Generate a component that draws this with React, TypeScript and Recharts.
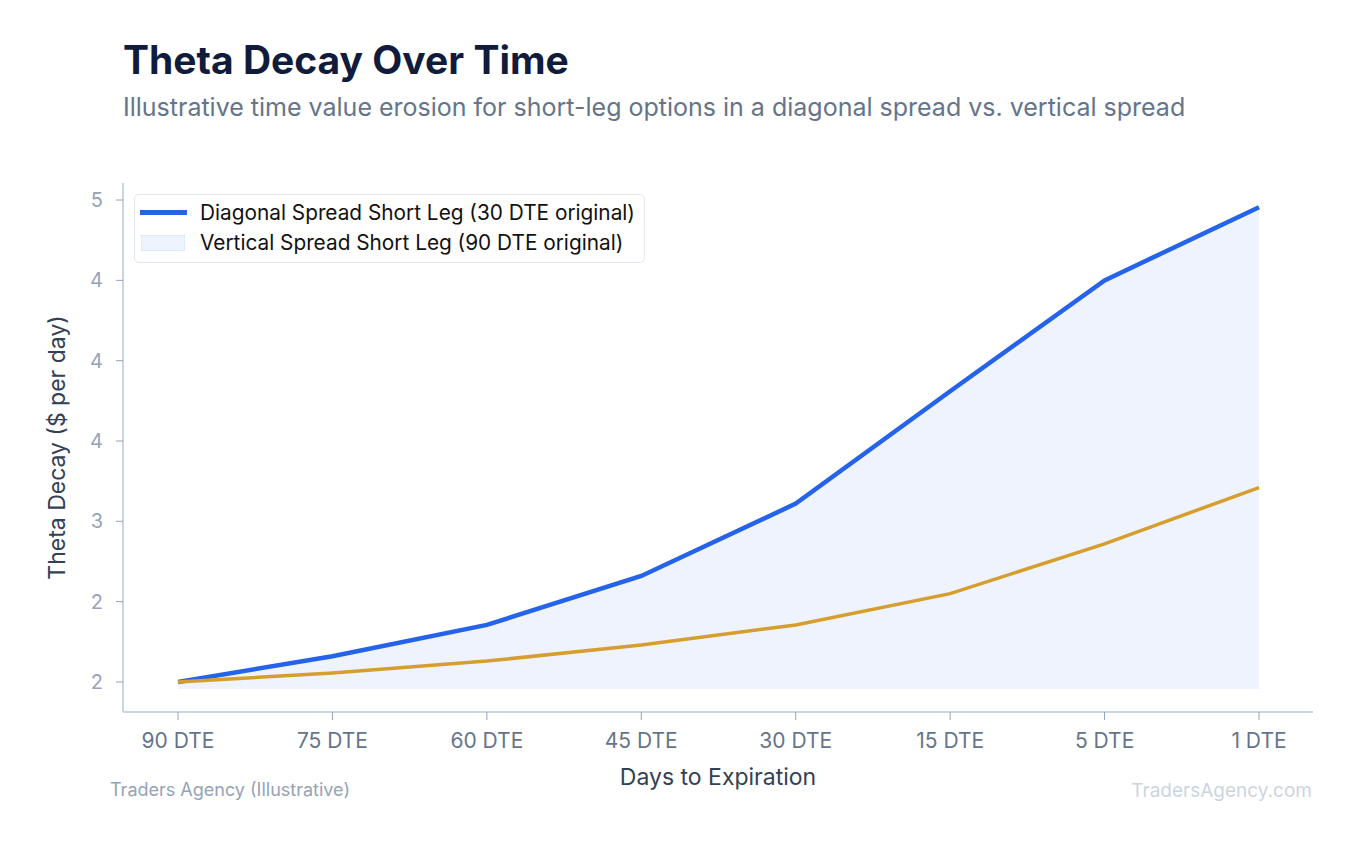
import React from 'react';
import { ComposedChart, Area, Line, XAxis, YAxis, CartesianGrid, Legend } from 'recharts';

const categories = ['90 DTE', '75 DTE', '60 DTE', '45 DTE', '30 DTE', '15 DTE', '5 DTE', '1 DTE'];
const diagonalValues = [2.0, 2.16, 2.355, 2.66, 3.11, 3.81, 4.5, 4.955];
const verticalValues = [2.0, 2.056, 2.13, 2.23, 2.355, 2.55, 2.86, 3.21];
const yTicks = [2.0, 2.5, 3.0, 3.5, 4.0, 4.5, 5.0];
const yTickLabels = ['2', '2', '3', '4', '4', '4', '5'];
const yDomain = [1.813, 5.106];
const areaBase = 1.956;
const seriesNames = ['Diagonal Spread Short Leg (30 DTE original)', 'Vertical Spread Short Leg (90 DTE original)'];

const data = categories.map((c, i) => ({ label: c, diagonal: diagonalValues[i], vertical: verticalValues[i] }));

const FONT = 'Inter, "Noto Sans", sans-serif';

const renderLegend = () => (
  <div
    style={{
      position: 'relative',
      width: 511,
      height: 69,
      boxSizing: 'border-box',
      border: '1.5px solid #e2e8f0',
      borderRadius: 5,
      background: '#ffffff',
      fontFamily: FONT,
    }}
  >
    <div style={{ position: 'absolute', left: 5, top: 15, width: 47, height: 4.5, background: '#2563eb' }} />
    <div style={{ position: 'absolute', left: 65, top: 4, fontSize: 20.8, lineHeight: '28px', color: '#111111', whiteSpace: 'nowrap' }}>
      {seriesNames[0]}
    </div>
    <div
      style={{
        position: 'absolute',
        left: 6,
        top: 40,
        width: 44,
        height: 16,
        boxSizing: 'border-box',
        background: '#eef3fd',
        border: '1px dotted #d6e2fb',
      }}
    />
    <div style={{ position: 'absolute', left: 65, top: 34, fontSize: 20.8, lineHeight: '28px', color: '#111111', whiteSpace: 'nowrap' }}>
      {seriesNames[1]}
    </div>
  </div>
);

const YLabel = (props: any) => {
  const vb = props.viewBox || { x: 63, y: 183, width: 60, height: 529 };
  const cx = vb.x - 6;
  const cy = vb.y + vb.height / 2;
  return (
    <text
      x={cx}
      y={cy}
      transform={`rotate(-90 ${cx} ${cy})`}
      textAnchor="middle"
      dominantBaseline="central"
      fill="#334155"
      fontSize={23}
      fontFamily={FONT}
    >
      Theta Decay ($ per day)
    </text>
  );
};

const XLabel = (props: any) => {
  const vb = props.viewBox || { x: 123, y: 712, width: 1190, height: 50 };
  return (
    <text x={vb.x + vb.width / 2} y={vb.y + 73} textAnchor="middle" fill="#334155" fontSize={23} fontFamily={FONT}>
      Days to Expiration
    </text>
  );
};

const gridRows = (props: any) => {
  const scale = props && props.yAxis && props.yAxis.scale;
  if (typeof scale !== 'function') return [];
  return yTicks.map((t) => scale(t));
};

export default function App() {
  return (
    <div style={{ position: 'absolute', left: 0, top: 0, width: 1358, height: 845, background: '#ffffff', fontFamily: FONT }}>
      <div
        style={{
          position: 'absolute',
          left: 123,
          top: 40,
          fontSize: 39,
          lineHeight: 1,
          fontWeight: 700,
          color: '#111c3c',
          whiteSpace: 'nowrap',
        }}
      >
        Theta Decay Over Time
      </div>
      <div
        style={{
          position: 'absolute',
          left: 123,
          top: 95,
          fontSize: 25,
          lineHeight: 1,
          color: '#64748b',
          whiteSpace: 'nowrap',
        }}
      >
        Illustrative time value erosion for short-leg options in a diagonal spread vs. vertical spread
      </div>
      <div style={{ position: 'absolute', left: 0, top: 0 }}>
        <ComposedChart
          width={1358}
          height={845}
          data={data}
          margin={{ top: 183, right: 45, bottom: 83, left: 63 }}
        >
          <CartesianGrid
            vertical={false}
            stroke="#e5e9f0"
            strokeDasharray="4 3"
            strokeWidth={1}
            horizontalCoordinatesGenerator={gridRows}
          />
          <XAxis
            dataKey="label"
            type="category"
            scale="point"
            padding={{ left: 55, right: 54 }}
            height={50}
            axisLine={{ stroke: '#cbd5e1', strokeWidth: 2 }}
            tickLine={{ stroke: '#94a3b8', strokeWidth: 1 }}
            tickSize={8}
            tickMargin={13}
            tick={{ fill: '#64748b', fontSize: 21, fontFamily: FONT }}
            interval={0}
            label={<XLabel />}
          />
          <YAxis
            type="number"
            domain={yDomain}
            ticks={yTicks}
            width={60}
            allowDataOverflow
            axisLine={{ stroke: '#cbd5e1', strokeWidth: 2 }}
            tickLine={{ stroke: '#94a3b8', strokeWidth: 1 }}
            tickSize={7}
            tickMargin={13}
            tick={{ fill: '#94a3b8', fontSize: 20, fontFamily: FONT }}
            tickFormatter={(v: number) => {
              const idx = yTicks.indexOf(v);
              return idx >= 0 ? yTickLabels[idx] : String(v);
            }}
            label={<YLabel />}
          />
          <Legend
            content={renderLegend}
            layout="vertical"
            align="center"
            verticalAlign="middle"
            wrapperStyle={{ position: 'absolute', left: 134, top: 194, width: 511, height: 69 }}
          />
          <Area
            type="linear"
            dataKey="diagonal"
            baseValue={areaBase}
            stroke="none"
            fill="#eef3fd"
            fillOpacity={1}
            isAnimationActive={false}
            legendType="none"
          />
          <Line
            type="linear"
            dataKey="diagonal"
            stroke="#2563eb"
            strokeWidth={4.5}
            dot={false}
            activeDot={false}
            isAnimationActive={false}
          />
          <Line
            type="linear"
            dataKey="vertical"
            stroke="#d69e2e"
            strokeWidth={3.5}
            dot={false}
            activeDot={false}
            isAnimationActive={false}
          />
        </ComposedChart>
      </div>
      <div
        style={{
          position: 'absolute',
          left: 110,
          top: 781,
          fontSize: 18,
          lineHeight: 1,
          color: '#94a3b8',
          whiteSpace: 'nowrap',
        }}
      >
        Traders Agency (Illustrative)
      </div>
      <div
        style={{
          position: 'absolute',
          right: 46,
          top: 781,
          fontSize: 19,
          lineHeight: 1,
          color: '#cbd5e1',
          whiteSpace: 'nowrap',
        }}
      >
        TradersAgency.com
      </div>
    </div>
  );
}
